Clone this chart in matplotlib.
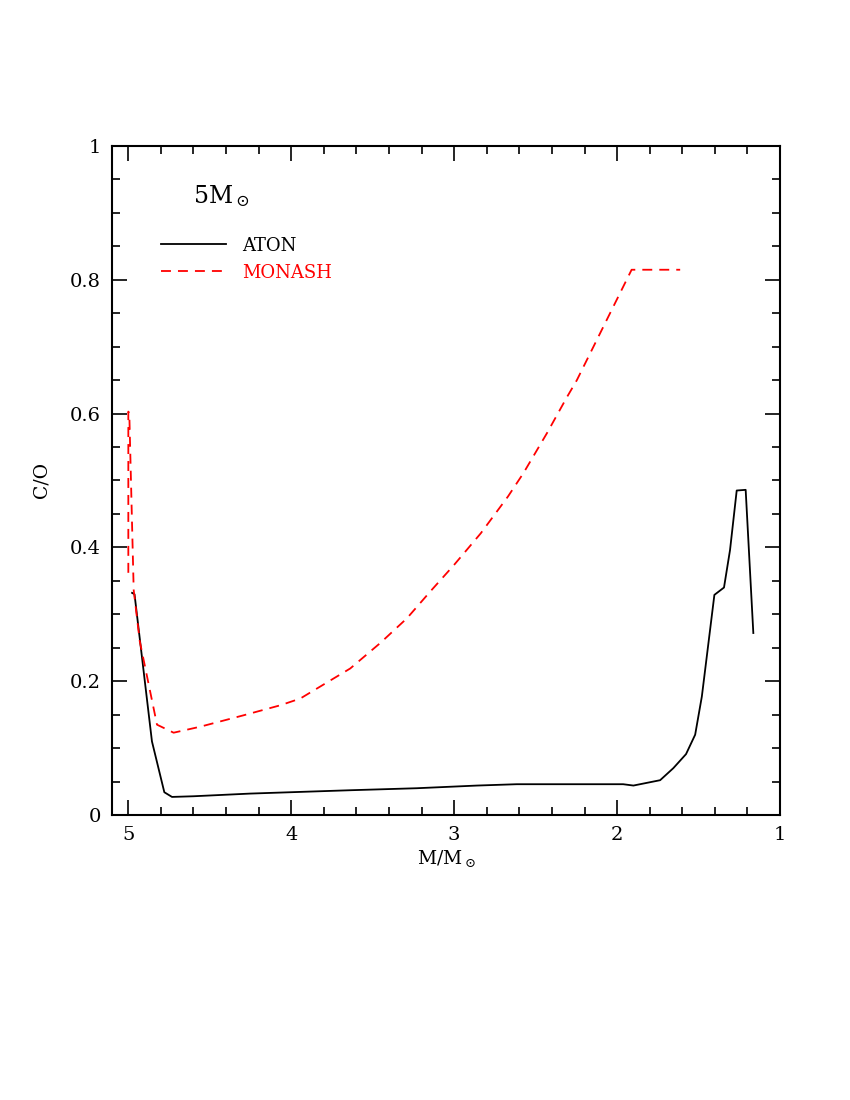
import numpy as np
import matplotlib.pyplot as plt
from matplotlib.ticker import MultipleLocator, FixedLocator

plt.rcParams.update({'font.family': 'DejaVu Serif', 'mathtext.fontset': 'dejavuserif',
                     'axes.linewidth': 1.5})

# ATON (solid black)
aton_m = [4.977, 4.962, 4.855, 4.779, 4.732, 4.60, 4.252, 3.638, 3.23, 2.86,
          2.616, 2.33, 1.963, 1.90, 1.736, 1.655, 1.577, 1.521, 1.480, 1.403,
          1.344, 1.307, 1.266, 1.211, 1.164]
aton_co = [0.332, 0.330, 0.110, 0.034, 0.027, 0.028, 0.032, 0.037, 0.040, 0.044,
           0.046, 0.046, 0.046, 0.044, 0.052, 0.070, 0.091, 0.120, 0.177, 0.329,
           0.340, 0.396, 0.485, 0.486, 0.272]

# MONASH (dashed red)
monash_m = [5.0, 5.0, 4.994, 4.967, 4.93, 4.824, 4.722, 4.558, 4.293, 4.067,
            3.945, 3.638, 3.454, 3.29, 3.147, 3.0, 2.837, 2.67, 2.575, 2.43,
            2.307, 2.247, 1.911, 1.613]
monash_co = [0.362, 0.603, 0.600, 0.336, 0.26, 0.135, 0.123, 0.132, 0.149, 0.164,
             0.174, 0.219, 0.257, 0.294, 0.334, 0.374, 0.421, 0.476, 0.511, 0.571,
             0.625, 0.650, 0.815, 0.815]

xticks = [5, 4, 3, 2, 1]
yticks = [0, 0.2, 0.4, 0.6, 0.8, 1]
ytick_labels = ['0', '0.2', '0.4', '0.6', '0.8', '1']

fig = plt.figure(figsize=(8.5, 11), dpi=100)
ax = fig.add_axes([0.1318, 0.2591, 0.7859, 0.6082])

ax.plot(aton_m, aton_co, color='black', lw=1.3, label='ATON')
ax.plot(monash_m, monash_co, color='red', lw=1.3, dashes=(5.5, 3.9), label='MONASH')

ax.set_xlim(5.1, 1)
ax.set_ylim(0, 1)
ax.xaxis.set_major_locator(FixedLocator(xticks))
ax.set_xticklabels([str(t) for t in xticks])
ax.xaxis.set_minor_locator(MultipleLocator(0.2))
ax.yaxis.set_major_locator(FixedLocator(yticks))
ax.set_yticklabels(ytick_labels)
ax.yaxis.set_minor_locator(MultipleLocator(0.05))
ax.tick_params(which='both', direction='in', top=True, right=True, width=1.2)
ax.tick_params(which='major', length=11, labelsize=14, pad=8)
ax.tick_params(which='minor', length=5.5)

ax.set_xlabel(r'M/M$_\odot$', fontsize=13.5, labelpad=3)
ax.set_ylabel('C/O', fontsize=13.5, labelpad=14)

ax.text(4.60, 0.915, r'5M$_\odot$', fontsize=17)

leg = ax.legend(loc='upper left', bbox_to_anchor=(0.06, 0.878), frameon=False,
                fontsize=13, handlelength=3.6, handletextpad=0.9,
                labelspacing=0.5, labelcolor='linecolor', borderpad=0)

fig.savefig('out.png', dpi=100)
